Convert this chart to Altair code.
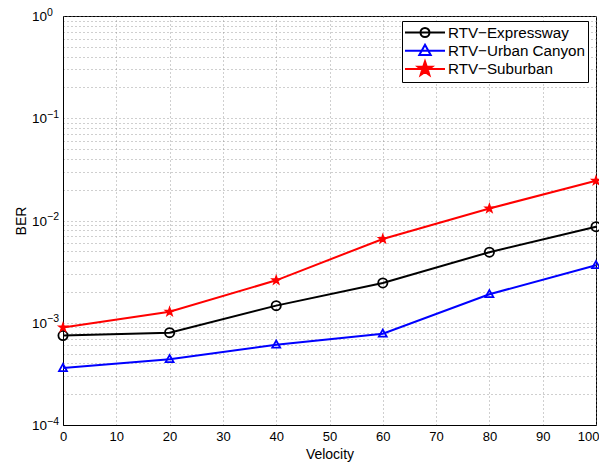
import altair as alt
import pandas as pd
import re

velocity = [0, 20, 40, 60, 80, 100]
expressway = [7.5e-4, 8.0e-4, 1.47e-3, 2.45e-3, 4.9e-3, 8.7e-3]
urban_canyon = [3.6e-4, 4.4e-4, 6.1e-4, 7.8e-4, 1.9e-3, 3.65e-3]
suburban = [9.0e-4, 1.28e-3, 2.6e-3, 6.6e-3, 1.31e-2, 2.45e-2]

names = ["RTV\u2212Expressway", "RTV\u2212Urban Canyon", "RTV\u2212Suburban"]
colors = ["#000000", "#0000ff", "#ff0000"]
fills = ["transparent", "transparent", "#ff0000"]

x_ticks = [0, 10, 20, 30, 40, 50, 60, 70, 80, 90, 100]
y_major = [1e-4, 1e-3, 1e-2, 1e-1, 1.0]
y_major_base = ["10", "10", "10", "10", "10"]
y_major_exp = ["\u22124", "\u22123", "\u22122", "\u22121", "0"]

rows = []
for name, vals in zip(names, [expressway, urban_canyon, suburban]):
    for v, b in zip(velocity, vals):
        rows.append({"Velocity": v, "BER": b, "scheme": name})
df = pd.DataFrame(rows)

ylab_df = pd.DataFrame({"BER": y_major, "base": y_major_base, "exp": y_major_exp})

# minor + major log grid values
y_values = []
for k in range(-4, 0):
    for m in range(1, 10):
        y_values.append(m * 10.0 ** k)
y_values.append(1.0)

STAR = ("M0,-1L0.235,-0.324L0.951,-0.309L0.380,0.124L0.588,0.809L0,0.4"
        "L-0.588,0.809L-0.380,0.124L-0.951,-0.309L-0.235,-0.324Z")
TRI = "M0,-1L0.95,0.7L-0.95,0.7Z"
point_shapes = ["circle", TRI, STAR]


def transform(path, s, dx):
    toks = re.findall(r"[A-Za-z]|-?\d*\.?\d+", path)
    res = ""
    nums = []
    for tok in toks:
        if tok.isalpha():
            res += tok
        else:
            nums.append(float(tok))
            if len(nums) == 2:
                res += f"{nums[0] * s + dx:.3f},{nums[1] * s:.3f}"
                nums = []
    return res


# legend symbols: line segment plus marker (unit = 7.5 px, symbol box 15 px)
SYM = 225
U = 7.5
LEFT = (-1 - 7.5) / U
RIGHT = (39 - 7.5) / U
MID = (19 - 7.5) / U
LINE = f"M{LEFT:.3f},0L{RIGHT:.3f},0"
cr = 4.5 / U
leg_circle = (f"{LINE}M{MID + cr:.3f},0A{cr:.3f},{cr:.3f} 0 1,1 {MID - cr:.3f},0"
              f"A{cr:.3f},{cr:.3f} 0 1,1 {MID + cr:.3f},0")
leg_tri = LINE + transform(TRI, 6.0 / U, MID)
leg_star = LINE + transform(STAR, 7.5 / U, MID)
legend_shapes = [leg_circle, leg_tri, leg_star]

x_enc = alt.X("Velocity:Q", scale=alt.Scale(domain=[0, 100], nice=False),
              axis=alt.Axis(values=x_ticks, title="Velocity", labelFlush=False,
                            labelAlign={"condition": {"test": "datum.value >= 100", "value": "right"},
                                        "value": "center"},
                            labelOffset={"condition": {"test": "datum.value >= 100", "value": 3},
                                         "value": 0}))
y_enc = alt.Y("BER:Q", scale=alt.Scale(type="log", domain=[1e-4, 1], nice=False),
              axis=alt.Axis(values=y_values, labels=False, title="BER"))

base = alt.Chart(df)

lines = base.mark_line(strokeWidth=2).encode(
    x=x_enc, y=y_enc,
    color=alt.Color("scheme:N", scale=alt.Scale(domain=names, range=colors), legend=None),
)

points = base.mark_point(filled=False, strokeWidth=1.8, opacity=1).encode(
    x=x_enc, y=y_enc,
    color=alt.Color("scheme:N", scale=alt.Scale(domain=names, range=colors), legend=None),
    fill=alt.Fill("scheme:N", scale=alt.Scale(domain=names, range=fills), legend=None),
    shape=alt.Shape("scheme:N", scale=alt.Scale(domain=names, range=point_shapes), legend=None),
    size=alt.Size("scheme:N", scale=alt.Scale(domain=names, range=[85, 55, 65]), legend=None),
)

leg = alt.Legend(title=None, orient="none", legendX=339, legendY=5,
                 symbolSize=SYM, symbolStrokeWidth=2, labelFontSize=15.2,
                 labelFont="Liberation Sans", labelColor="black",
                 labelOffset=26,
                 fillColor="white", strokeColor="black", padding=3, rowPadding=-1.8,
                 cornerRadius=0)

legend_layer = base.transform_filter("false").mark_point(
    filled=False, strokeWidth=2, opacity=1, size=SYM).encode(
    x=x_enc, y=y_enc,
    color=alt.Color("scheme:N", scale=alt.Scale(domain=names, range=colors), legend=leg),
    fill=alt.Fill("scheme:N", scale=alt.Scale(domain=names, range=fills), legend=leg),
    shape=alt.Shape("scheme:N", scale=alt.Scale(domain=names, range=legend_shapes), legend=leg),
)

ylab_base = alt.Chart(ylab_df).mark_text(
    align="right", baseline="middle", fontSize=13.5, font="Liberation Sans", color="black", dy=1
).encode(y=alt.Y("BER:Q"), x=alt.value(-16), text="base:N")

ylab_exp = alt.Chart(ylab_df).mark_text(
    align="left", baseline="middle", fontSize=10.5, font="Liberation Sans", color="black", dy=-3.5
).encode(y=alt.Y("BER:Q"), x=alt.value(-16), text="exp:N")

chart = alt.layer(lines, points, legend_layer, ylab_base, ylab_exp).resolve_scale(
    color="independent", fill="independent", shape="independent", size="independent"
).properties(
    width=533, height=409,
    autosize=alt.AutoSizeParams(type="none"),
    padding={"left": 55, "top": 8, "right": 3, "bottom": 40},
).configure_view(
    stroke="black", strokeWidth=1
).configure_axis(
    labelFont="Liberation Sans", titleFont="Liberation Sans",
    labelFontSize=13, titleFontSize=14, titleFontWeight="normal",
    labelColor="black", titleColor="black",
    domainColor="black", domainWidth=1,
    ticks=False, labelPadding=5,
    grid=True, gridColor="#888888", gridDash=[1, 3], gridWidth=1, gridOpacity=0.8,
).configure_axisX(titlePadding=4).configure_axisY(titlePadding=35)

chart.save("out.html", embed_options={"renderer": "svg", "actions": False})
